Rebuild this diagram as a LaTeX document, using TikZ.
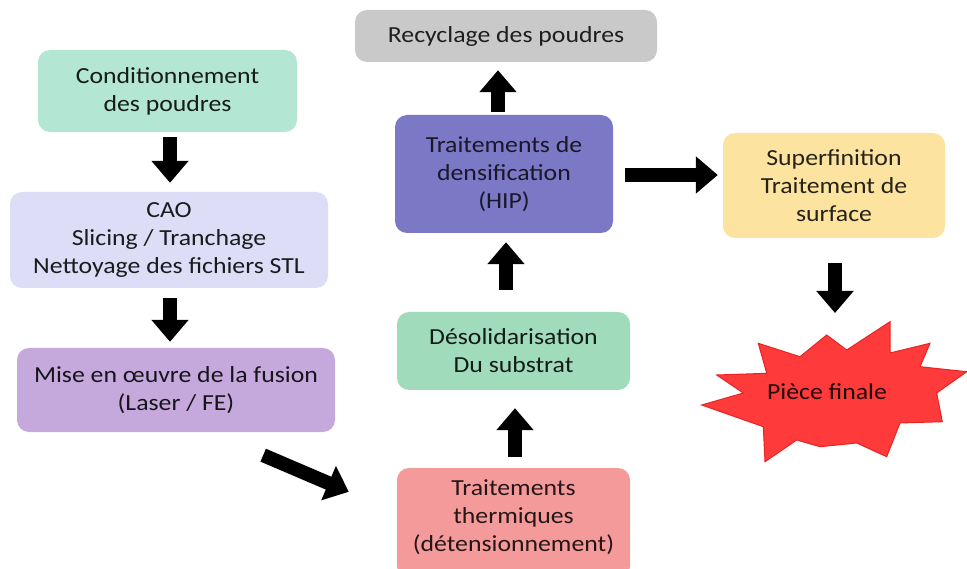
\documentclass[tikz,border=0pt]{standalone}
\usepackage{fontspec}
\setmainfont[FakeStretch=1.12]{Carlito}
\usetikzlibrary{arrows.meta,calc}
\definecolor{condc}{HTML}{B4E6D4}
\definecolor{caoc}{HTML}{DDDDF8}
\definecolor{misec}{HTML}{C5A9DC}
\definecolor{recc}{HTML}{C9C9C9}
\definecolor{hipc}{HTML}{7B79C6}
\definecolor{supc}{HTML}{FCE4A0}
\definecolor{desc}{HTML}{A0DCBC}
\definecolor{thc}{HTML}{F59A9A}
\definecolor{starc}{HTML}{FF3A3A}
\definecolor{stard}{HTML}{E82424}
\begin{document}
\begin{tikzpicture}[x=1pt,y=-1pt,
  box/.style={rounded corners=12pt, inner sep=0pt, align=center, font=\fontsize{23}{28}\selectfont},
  txt/.style={inner sep=0pt, align=center, font=\fontsize{23}{28}\selectfont},
  bigarrow/.style={line width=14pt, black, -{Triangle[width=36pt,length=22pt]}}]
\useasboundingbox (0,0) rectangle (967,569);
\clip (0,0) rectangle (967,569);
\fill[white] (0,0) rectangle (967,569);

% boxes
\node[box, fill=condc, text=condc!12!black, minimum width=259pt, minimum height=82pt] (cond) at (167.5,91) {Conditionnement\\des poudres};
\node[box, fill=caoc, text=caoc!12!black, minimum width=318pt, minimum height=96pt] (cao) at (169,240) {CAO\\Slicing / Tranchage\\Nettoyage des fichiers STL};
\node[box, fill=misec, text=misec!12!black, minimum width=318pt, minimum height=84pt] (mise) at (176,390) {Mise en œuvre de la fusion\\(Laser / FE)};
\node[box, fill=recc, text=recc!15!black, minimum width=302pt, minimum height=52pt] (recyc) at (506,36) {Recyclage des poudres};
\node[box, fill=hipc, text=hipc!20!black, minimum width=218pt, minimum height=118pt] (hip) at (504,174) {Traitements de\\densification\\(HIP)};
\node[box, fill=supc, text=supc!15!black, minimum width=222pt, minimum height=105pt] (sup) at (834,185.5) {Superfinition\\Traitement de\\surface};
\node[box, fill=desc, text=desc!12!black, minimum width=233pt, minimum height=78pt] (desol) at (513.5,351) {Désolidarisation\\Du substrat};
\node[box, fill=thc, minimum width=233pt, minimum height=110pt] (therm) at (513.5,523) {};
\node[txt, text=thc!15!black] (thermtxt) at (513.5,517) {Traitements\\thermiques\\(détensionnement)};

% star
\filldraw[fill=starc, draw=stard, line width=1pt, line join=miter]
  (826.7,335) -- (846.7,350) -- (890,321.7) -- (890,353) -- (930,343.3) -- (920,366.7)
  -- (966.7,371.7) -- (936.7,393) -- (942.3,421.7) -- (900,423) -- (886.7,456.7)
  -- (856.7,443) -- (820,446.7) -- (796.7,440) -- (765,461.7) -- (763.3,426.7)
  -- (701.7,405) -- (743.3,393) -- (716.7,375) -- (766.7,373.3) -- (758.3,343.3)
  -- (800,356.7) -- cycle;
\node[txt, text=starc!12!black] (piece) at (827,392) {Pièce finale};

% arrows
\draw[bigarrow] ($(cond.south)+(2.5,5)$) -- ($(cao.north)+(1,-9)$);
\draw[bigarrow] ($(cao.south)+(1,10)$) -- ($(mise.north)+(-6,-6)$);
\draw[bigarrow] ($(mise.south east)+(-72,23)$) -- ($(therm.north west)+(-48,24)$);
\draw[bigarrow] ($(therm.north)+(1.5,-11)$) -- ($(desol.south)+(1.5,18)$);
\draw[bigarrow] ($(desol.north)+(-7.5,-22)$) -- ($(hip.south)+(2,9)$);
\draw[bigarrow] ($(hip.north)+(-6,-3)$) -- ($(recyc.south)+(-8,8)$);
\draw[bigarrow] ($(hip.east)+(12,1)$) -- ($(sup.west)+(-5,-10.5)$);
\draw[bigarrow] ($(sup.south)+(1,25)$) -- ($(piece)+(8,-79)$);
\end{tikzpicture}
\end{document}
